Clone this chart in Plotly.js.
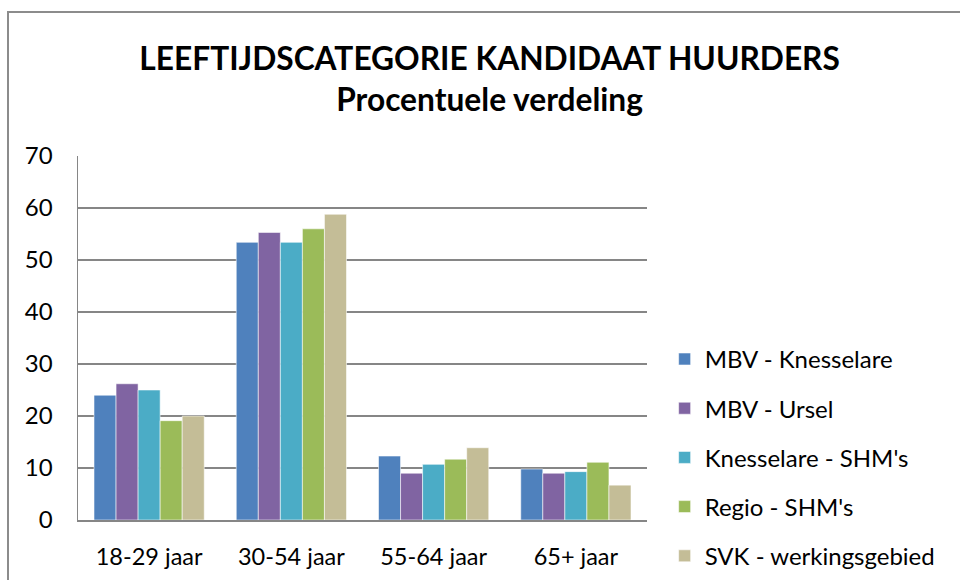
<!DOCTYPE html>
<html>
<head>
<meta charset="utf-8">
<script src="https://cdn.plot.ly/plotly-3.0.1.min.js"></script>
<style>
  html, body { margin: 0; padding: 0; background: #fff; overflow: hidden; }
  #frame { position: absolute; left: 7px; top: 11px; width: 1000px; height: 620px; border: 2px solid #8c8c8c; box-sizing: border-box; }
  #chart { position: absolute; left: 0; top: 0; width: 960px; height: 580px; }
</style>
</head>
<body>
<div id="frame"></div>
<div id="chart"></div>
<script>
const categories = ["18-29 jaar", "30-54 jaar", "55-64 jaar", "65+ jaar"];
const seriesNames = ["MBV - Knesselare", "MBV - Ursel", "Knesselare - SHM's", "Regio - SHM's", "SVK - werkingsgebied"];
const mbvKnesselare = [24.0, 53.4, 12.3, 9.8];
const mbvUrsel = [26.2, 55.3, 9.0, 9.0];
const knesselareSHM = [25.0, 53.4, 10.7, 9.3];
const regioSHM = [19.1, 56.0, 11.7, 11.1];
const svkWerkingsgebied = [20.0, 58.8, 13.9, 6.7];
const colors = ["#4F81BD", "#8064A2", "#4BACC6", "#9BBB59", "#C4BD97"];

const allSeries = [mbvKnesselare, mbvUrsel, knesselareSHM, regioSHM, svkWerkingsgebied];
const FONT = "Lato, 'Open Sans', sans-serif";

const traces = allSeries.map((vals, i) => ({
  type: "bar",
  name: seriesNames[i],
  x: categories,
  y: vals,
  legendgroup: "g" + i,
  marker: { color: colors[i], line: { color: "rgba(255,255,255,0.55)", width: 1 } },
  hoverinfo: "x+y+name"
}));

const layout = {
  width: 960,
  height: 580,
  paper_bgcolor: "rgba(0,0,0,0)",
  plot_bgcolor: "rgba(0,0,0,0)",
  margin: { l: 78, r: 313, t: 156, b: 60, pad: 0, autoexpand: false },
  barmode: "group",
  bargap: 0.225,
  bargroupgap: 0,
  font: { family: FONT, color: "#000", size: 24 },
  title: {
    text: "<b>LEEFTIJDSCATEGORIE KANDIDAAT HUURDERS<br>Procentuele verdeling</b>",
    font: { family: FONT, size: 31.7, color: "#000" },
    x: 0.51, xanchor: "center",
    y: 0.88, yanchor: "top"
  },
  xaxis: {
    type: "category",
    automargin: false,
    showline: true, linecolor: "#868686", linewidth: 2,
    ticks: "", showgrid: false,
    tickfont: { family: FONT, size: 23.5, color: "#000" },
    ticklabelstandoff: 15
  },
  yaxis: {
    range: [0, 70], dtick: 10, tick0: 0,
    automargin: false,
    showline: true, linecolor: "#868686", linewidth: 1.5,
    showgrid: true, gridcolor: "#868686", gridwidth: 2,
    zeroline: false,
    ticks: "",
    tickfont: { family: FONT, size: 24, color: "#000" },
    ticklabelstandoff: 19
  },
  legend: {
    x: 1.031, xanchor: "left",
    y: 0.503, yanchor: "top",
    traceorder: "grouped",
    tracegroupgap: 15,
    font: { family: FONT, size: 24, color: "#000" },
    bgcolor: "rgba(0,0,0,0)"
  },
  showlegend: true
};

Plotly.newPlot("chart", traces, layout, { displayModeBar: false, staticPlot: true });
</script>
</body>
</html>
